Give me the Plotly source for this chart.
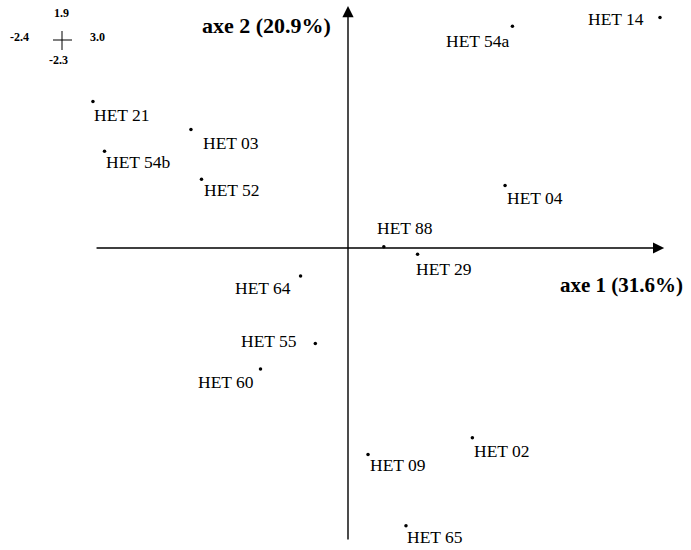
import plotly.graph_objects as go

# PCA scores of the HET strains on the first two axes
strains = ['HET 14', 'HET 54a', 'HET 21', 'HET 03', 'HET 54b', 'HET 52', 'HET 04',
           'HET 88', 'HET 29', 'HET 64', 'HET 55', 'HET 60', 'HET 02', 'HET 09', 'HET 65']
axe1 = [2.96, 1.56, -2.42, -1.49, -2.31, -1.39, 1.49,
        0.34, 0.66, -0.45, -0.31, -0.83, 1.18, 0.19, 0.55]
axe2 = [1.81, 1.74, 1.15, 0.93, 0.76, 0.54, 0.49,
        0.01, -0.05, -0.22, -0.75, -0.95, -1.49, -1.62, -2.18]

# scale of the plot: min/max of each axis
x_min, x_max = -2.4, 3.0
y_min, y_max = -2.3, 1.9
axe1_title = 'axe 1 (31.6%)'
axe2_title = 'axe 2 (20.9%)'

# where each label sits relative to its point (pixels, right / down)
label_dx = [-44, -34, 29, 40, 34, 31, 30, 21, 26, -38, -46, -35, 30, 30, 29]
label_dy = [2, 15, 14, 13, 11, 11, 12, -19, 15, 12, -3, 13, 13, 11, 11]

W, H = 691, 550
SERIF = 'Liberation Serif, Times New Roman, serif'


def px(x):
    return x / W


def py(y):
    return 1 - y / H


fig = go.Figure()

fig.add_trace(go.Scatter(
    x=axe1, y=axe2,
    mode='markers',
    marker=dict(size=3.5, color='black'),
    showlegend=False,
    cliponaxis=False,
    hoverinfo='skip',
))

for name, x, y, dx, dy in zip(strains, axe1, axe2, label_dx, label_dy):
    fig.add_annotation(x=x, y=y, text=name, showarrow=False,
                       xshift=dx, yshift=-dy, xanchor='center', yanchor='middle',
                       font=dict(family=SERIF, size=17.5, color='black'))

# axes drawn as arrows through the origin
fig.add_annotation(x=x_max, y=0, ax=x_min, ay=0, xref='x', yref='y', axref='x', ayref='y',
                   showarrow=True, arrowhead=2, arrowsize=1.6, arrowwidth=1.4,
                   arrowcolor='black', text='')
fig.add_annotation(x=0, y=y_max, ax=0, ay=y_min, xref='x', yref='y', axref='x', ayref='y',
                   showarrow=True, arrowhead=2, arrowsize=1.6, arrowwidth=1.4,
                   arrowcolor='black', text='')

fig.add_annotation(x=-0.14, y=1.75, text='<b>' + axe2_title + '</b>', showarrow=False,
                   xanchor='right', yanchor='middle',
                   font=dict(family=SERIF, size=22, color='black'))
fig.add_annotation(x=1.99, y=-0.29, text='<b>' + axe1_title + '</b>', showarrow=False,
                   xanchor='left', yanchor='middle',
                   font=dict(family=SERIF, size=21, color='black'))

# small scale cross in the top-left corner
cx, cy = 62, 40
fig.add_shape(type='line', xref='paper', yref='paper',
              x0=px(cx - 9), x1=px(cx + 10), y0=py(cy), y1=py(cy),
              line=dict(color='black', width=1))
fig.add_shape(type='line', xref='paper', yref='paper',
              x0=px(cx), x1=px(cx), y0=py(cy - 9), y1=py(cy + 10),
              line=dict(color='black', width=1))
small = dict(family=SERIF, size=12, color='black')
for val, lx, ly in [(y_max, 61, 13), (y_min, 58, 60), (x_min, 19, 37), (x_max, 97, 37)]:
    fig.add_annotation(x=px(lx), y=py(ly), xref='paper', yref='paper',
                       text='<b>%.1f</b>' % val, showarrow=False, font=small,
                       xanchor='center', yanchor='middle')

fig.update_xaxes(range=[-348 / 105.4, (W - 348) / 105.4], visible=False)
fig.update_yaxes(range=[(248 - H) / 127.4, 248 / 127.4], visible=False)

fig.update_layout(
    width=W, height=H,
    margin=dict(l=0, r=0, t=0, b=0),
    plot_bgcolor='white', paper_bgcolor='white',
)

# drop the default page margin so the figure sits at the window's corner
fig.write_html('out.html', config={'displayModeBar': False},
               post_script="document.body.style.margin='0';")
